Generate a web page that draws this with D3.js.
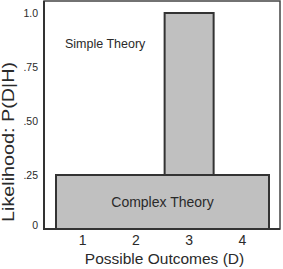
<!DOCTYPE html>
<html>
<head>
<meta charset="utf-8">
<script src="https://cdn.jsdelivr.net/npm/d3@7"></script>
<style>
  body { margin: 0; background: #fff; }
  text { font-family: "Liberation Sans", Arial, sans-serif; fill: #2a2a2a; }
</style>
</head>
<body>
<div id="chart"></div>
<script>
"use strict"

// data
const outcomes = [1, 2, 3, 4];
const simpleTheory = [0, 0, 1, 0];          // P(D|H) for the simple theory
const complexTheory = [0.25, 0.25, 0.25, 0.25];
const yTicks = [0, 0.25, 0.5, 0.75, 1];
const yTickLabels = ["0", ".25", ".50", ".75", "1.0"];

const width = 283, height = 269;

const svg = d3.select("#chart").append("svg")
    .attr("width", width)
    .attr("height", height);

const x = d3.scaleBand()
    .domain(outcomes)
    .range([56, 269])
    .padding(0);

const y = d3.scaleLinear()
    .domain([0, 1])
    .range([229, 13]);

// frame
svg.append("rect")
    .attr("x", 44)
    .attr("y", 1)
    .attr("width", 236)
    .attr("height", 228)
    .style("fill", "none")
    .style("stroke", "#444")
    .style("stroke-width", 1.5);

// complex theory: one wide flat block
const cLeft = x(outcomes[0]);
const cRight = x(outcomes[outcomes.length - 1]) + x.bandwidth();
svg.append("rect")
    .attr("x", cLeft)
    .attr("y", y(d3.max(complexTheory)))
    .attr("width", cRight - cLeft)
    .attr("height", y(0) - y(d3.max(complexTheory)))
    .style("fill", "#c0c0c0")
    .style("stroke", "#333")
    .style("stroke-width", 2);

// simple theory: tall bar where P > 0
const barW = 49;
svg.selectAll(".simple")
    .data(outcomes.filter((d, i) => simpleTheory[i] > 0))
    .enter().append("rect")
    .attr("class", "simple")
    .attr("x", d => x(d) + x.bandwidth() / 2 - barW / 2)
    .attr("y", d => y(simpleTheory[outcomes.indexOf(d)]))
    .attr("width", barW)
    .attr("height", d => y(complexTheory[outcomes.indexOf(d)]) - y(simpleTheory[outcomes.indexOf(d)]))
    .style("fill", "#c0c0c0")
    .style("stroke", "#333")
    .style("stroke-width", 2);

// axes (left + bottom, heavier)
svg.append("line")
    .attr("x1", 44).attr("y1", 1)
    .attr("x2", 44).attr("y2", y(0))
    .style("stroke", "#333")
    .style("stroke-width", 2);
svg.append("line")
    .attr("x1", 43).attr("y1", y(0))
    .attr("x2", 280).attr("y2", y(0))
    .style("stroke", "#333")
    .style("stroke-width", 2);

// y tick labels
svg.selectAll(".ytick")
    .data(yTicks)
    .enter().append("text")
    .attr("class", "ytick")
    .attr("x", 38)
    .attr("y", d => y(d) - (d === 0 ? 4 : 0))
    .attr("dy", "0.35em")
    .style("font-size", "10.5px")
    .style("text-anchor", "end")
    .text((d, i) => yTickLabels[i]);

// x tick labels
svg.selectAll(".xtick")
    .data(outcomes)
    .enter().append("text")
    .attr("class", "xtick")
    .attr("x", d => x(d) + x.bandwidth() / 2)
    .attr("y", 245)
    .style("font-size", "14px")
    .style("text-anchor", "middle")
    .text(d => d);

// annotations
svg.append("text")
    .attr("x", 65)
    .attr("y", 48)
    .style("font-size", "12.5px")
    .text("Simple Theory");

svg.append("text")
    .attr("x", (cLeft + cRight) / 2)
    .attr("y", (y(0.25) + y(0)) / 2)
    .attr("dy", "0.35em")
    .style("font-size", "14px")
    .style("text-anchor", "middle")
    .text("Complex Theory");

// axis titles
svg.append("text")
    .attr("x", (cLeft + cRight) / 2 + 2)
    .attr("y", 264)
    .style("font-size", "15.5px")
    .style("text-anchor", "middle")
    .text("Possible Outcomes (D)");

svg.append("text")
    .attr("transform", "translate(14,142) rotate(-90)")
    .style("font-size", "16.5px")
    .style("text-anchor", "middle")
    .attr("textLength", 160)
    .attr("lengthAdjust", "spacingAndGlyphs")
    .text("Likelihood: P(D|H)");
</script>
</body>
</html>
